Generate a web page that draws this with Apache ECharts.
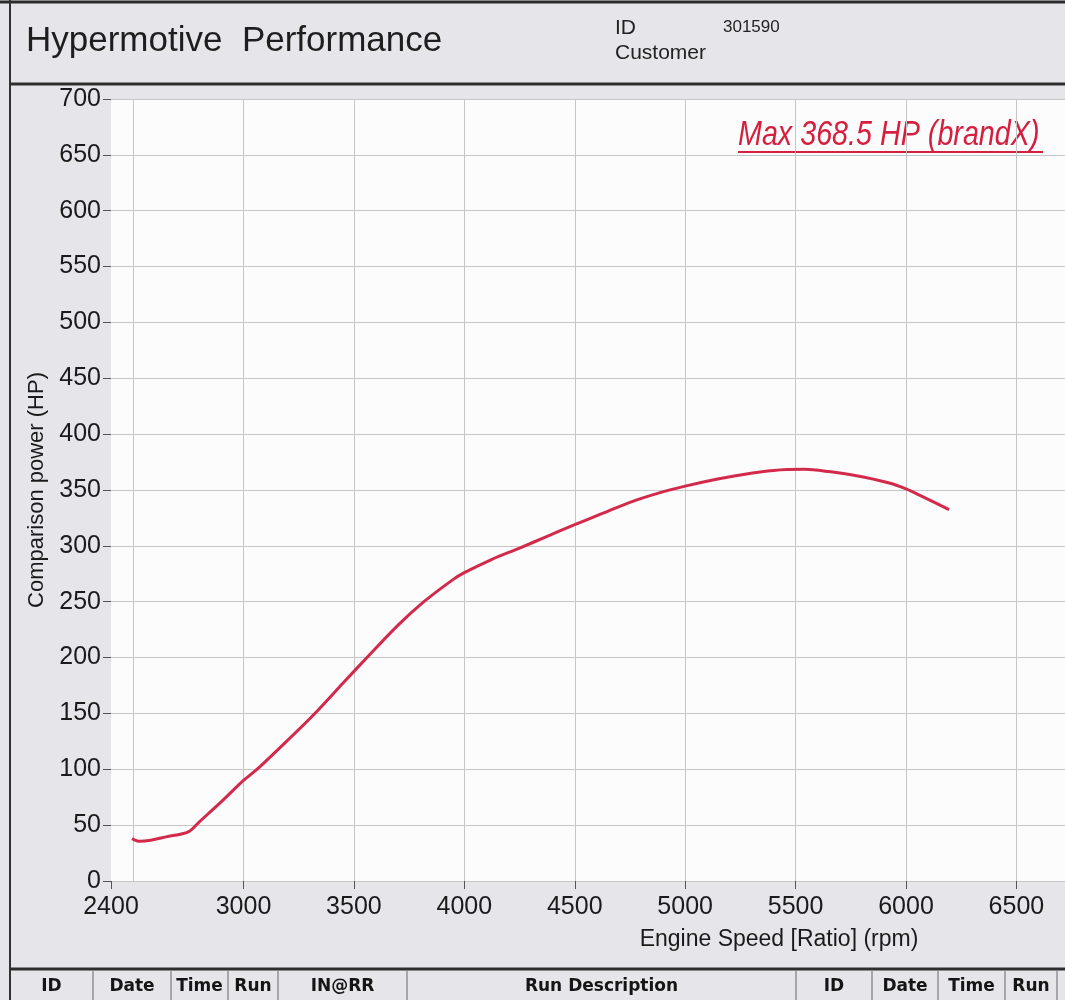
<!DOCTYPE html>
<html>
<head>
<meta charset="utf-8">
<script src="https://cdn.jsdelivr.net/npm/echarts@6/dist/echarts.min.js"></script>
<style>
  html, body { margin: 0; padding: 0; background: #e6e6ea; }
  #main { width: 1065px; height: 1000px; }
</style>
</head>
<body>
<div id="main"></div>
<script>
// dyno run
const rpm = [2495, 2530, 2580, 2650, 2750, 2800, 2900, 3000, 3067, 3200, 3323, 3450, 3559, 3700, 3817, 3950, 4000, 4125, 4250, 4375, 4500, 4625, 4750, 4875, 5000, 5125, 5250, 5400, 5540, 5650, 5770, 5920, 6000, 6070, 6195];
const power = [38, 35.5, 36.5, 39.5, 44, 53, 71, 90, 101, 126, 150, 177, 200, 229, 250, 270, 276, 288, 298, 308.5, 319, 329, 339, 347, 353.5, 359, 363.5, 367.5, 368.5, 366.5, 363, 356.5, 351, 344.5, 332.5];
const xLabelTicks = [2400, 3000, 3500, 4000, 4500, 5000, 5500, 6000, 6500];
const xGridTicks = [2500, 3000, 3500, 4000, 4500, 5000, 5500, 6000, 6500];
const tableHeaders = ['ID', 'Date', 'Time', 'Run', 'IN@RR', 'Run Description', 'ID', 'Date', 'Time', 'Run'];
const shopName = 'Hypermotive  Performance';
const runId = '301590';
const maxNote = 'Max 368.5 HP (brandX)';

// column edges of the run table at the bottom of the sheet
const colEdges = [10, 93, 171, 228, 278, 407, 796, 872, 938, 1005, 1057];

const sans = "'Liberation Sans', Arial, sans-serif";
const lineColor = '#d3294b';

const myChart = echarts.init(document.getElementById('main'));

const graphics = [
  { type: 'line', shape: { x1: 0, y1: 2, x2: 1065, y2: 2 }, style: { stroke: '#2a2a2a', lineWidth: 3 } },
  { type: 'line', shape: { x1: 10, y1: 0, x2: 10, y2: 1000 }, style: { stroke: '#333', lineWidth: 2 } },
  { type: 'line', shape: { x1: 10, y1: 84, x2: 1065, y2: 84 }, style: { stroke: '#2e2e2e', lineWidth: 3 } },
  { type: 'line', shape: { x1: 10, y1: 969, x2: 1065, y2: 969 }, style: { stroke: '#2e2e2e', lineWidth: 3 } },
  { type: 'text', x: 26, y: 41, style: { text: shopName, font: '35px ' + sans, fill: '#1e1e1e', textVerticalAlign: 'middle' } },
  { type: 'text', x: 615, y: 28, style: { text: 'ID', font: '21px ' + sans, fill: '#222', textVerticalAlign: 'middle' } },
  { type: 'text', x: 615, y: 53, style: { text: 'Customer', font: '21px ' + sans, fill: '#222', textVerticalAlign: 'middle' } },
  { type: 'text', x: 723, y: 27, style: { text: runId, font: '17px ' + sans, fill: '#222', textVerticalAlign: 'middle' } },
  { type: 'text', x: 738, y: 135, scaleX: 0.82, style: { text: maxNote, font: 'italic 35px ' + sans, fill: '#d4203e', textVerticalAlign: 'middle' } },
  { type: 'line', shape: { x1: 738, y1: 152, x2: 1043, y2: 152 }, style: { stroke: '#d4203e', lineWidth: 2 } }
];

for (let i = 1; i < colEdges.length; i++) {
  graphics.push({ type: 'line', shape: { x1: colEdges[i], y1: 971, x2: colEdges[i], y2: 1000 }, style: { stroke: '#666', lineWidth: 1 } });
}
tableHeaders.forEach(function (h, i) {
  graphics.push({
    type: 'text',
    x: (colEdges[i] + colEdges[i + 1]) / 2,
    y: 987,
    style: { text: h, font: "bold 17px 'DejaVu Sans', sans-serif", fill: '#151515', textAlign: 'center', textVerticalAlign: 'middle' }
  });
});

myChart.setOption({
  backgroundColor: '#e6e6ea',
  animation: false,
  grid: {
    left: 111,
    right: 0,
    top: 99,
    bottom: 119,
    show: true,
    backgroundColor: '#fcfcfc',
    borderWidth: 0
  },
  xAxis: [
    {
      type: 'value',
      min: 2400,
      max: 6720,
      name: 'Engine Speed [Ratio] (rpm)',
      nameLocation: 'middle',
      nameGap: 47,
      nameTextStyle: { fontFamily: sans, fontSize: 23, color: '#1a1a1a', padding: [0, 0, 0, 382] },
      axisLine: { show: false },
      axisTick: { show: true, inside: false, length: 8, customValues: xLabelTicks, lineStyle: { color: '#555' } },
      axisLabel: {
        customValues: xLabelTicks,
        fontFamily: sans,
        fontSize: 25,
        color: '#1a1a1a',
        margin: 14,
        formatter: function (v) { return String(v); }
      },
      splitLine: { show: false }
    },
    {
      type: 'value',
      min: 2400,
      max: 6720,
      position: 'bottom',
      axisLine: { show: false },
      axisTick: { show: false, customValues: xGridTicks },
      axisLabel: { show: false },
      splitLine: { show: true, lineStyle: { color: '#c6c6c6', width: 1 } }
    }
  ],
  yAxis: {
    type: 'value',
    min: 0,
    max: 700,
    interval: 50,
    name: 'Comparison power (HP)',
    nameLocation: 'middle',
    nameGap: 47,
    nameTextStyle: { fontFamily: sans, fontSize: 22, color: '#1a1a1a' },
    axisLine: { show: false },
    axisTick: { show: true, length: 8, lineStyle: { color: '#555' } },
    axisLabel: { fontFamily: sans, fontSize: 25, color: '#1a1a1a', margin: 10 },
    splitLine: { show: true, lineStyle: { color: '#c6c6c6', width: 1 } }
  },
  series: [
    {
      name: 'brandX',
      type: 'line',
      data: rpm.map(function (r, i) { return [r, power[i]]; }),
      smooth: 0.3,
      showSymbol: false,
      lineStyle: { color: lineColor, width: 3 }
    }
  ],
  graphic: graphics
});
</script>
</body>
</html>
